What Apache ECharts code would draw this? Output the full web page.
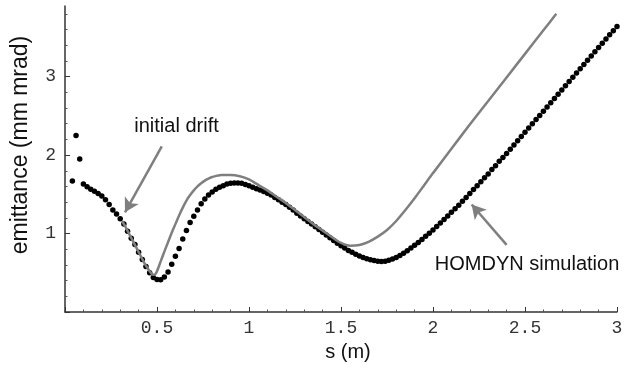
<!DOCTYPE html>
<html>
<head>
<meta charset="utf-8">
<script src="https://cdn.jsdelivr.net/npm/echarts@6/dist/echarts.min.js"></script>
<style>html,body{margin:0;padding:0;background:#fff}#c{width:641px;height:374px}</style>
</head>
<body>
<div id="c"></div>
<script>
// ---- data ----
const xTickLabels = ['0.5', '1', '1.5', '2', '2.5', '3'];
const yTickLabels = ['1', '2', '3'];
const xAxisTitle = 's (m)';
const yAxisTitle = 'emittance (mm mrad)';

// HOMDYN simulation (black dots): s values and emittance values
const dotS = [0.04,0.06,0.08,0.10,0.12,0.14,0.16,0.18,0.20,0.22,0.24,0.26,0.28,0.30,0.32,0.34,0.36,0.38,0.40,0.42,0.44,0.46,0.48,0.50,0.52,0.54,0.56,0.58,0.60,0.62,0.64,0.66,0.68,0.70,0.72,0.74,0.76,0.78,0.80,0.82,0.84,0.86,0.88,0.90,0.92,0.94,0.96,0.98,1.00,1.02,1.04,1.06,1.08,1.10,1.12,1.14,1.16,1.18,1.20,1.22,1.24,1.26,1.28,1.30,1.32,1.34,1.36,1.38,1.40,1.42,1.44,1.46,1.48,1.50,1.52,1.54,1.56,1.58,1.60,1.62,1.64,1.66,1.68,1.70,1.72,1.74,1.76,1.78,1.80,1.82,1.84,1.86,1.88,1.90,1.92,1.94,1.96,1.98,2.00,2.02,2.04,2.06,2.08,2.10,2.12,2.14,2.16,2.18,2.20,2.22,2.24,2.26,2.28,2.30,2.32,2.34,2.36,2.38,2.40,2.42,2.44,2.46,2.48,2.50,2.52,2.54,2.56,2.58,2.60,2.62,2.64,2.66,2.68,2.70,2.72,2.74,2.76,2.78,2.80,2.82,2.84,2.86,2.88,2.90,2.92,2.94,2.96,2.98,3.00];
const dotE = [1.67,2.25,1.95,1.63,1.595,1.565,1.54,1.51,1.48,1.43,1.37,1.30,1.25,1.19,1.12,1.03,0.94,0.86,0.76,0.67,0.58,0.50,0.44,0.415,0.41,0.445,0.51,0.61,0.71,0.81,0.93,1.04,1.14,1.22,1.30,1.38,1.44,1.49,1.53,1.565,1.59,1.61,1.63,1.64,1.645,1.645,1.64,1.625,1.61,1.59,1.57,1.555,1.535,1.515,1.49,1.46,1.43,1.40,1.37,1.335,1.30,1.26,1.225,1.19,1.155,1.12,1.085,1.05,1.015,0.98,0.945,0.91,0.875,0.845,0.815,0.785,0.76,0.735,0.715,0.695,0.68,0.665,0.655,0.648,0.645,0.648,0.66,0.675,0.695,0.72,0.75,0.78,0.815,0.85,0.885,0.925,0.965,1.005,1.045,1.09,1.135,1.18,1.225,1.27,1.315,1.36,1.41,1.46,1.51,1.56,1.61,1.66,1.71,1.76,1.815,1.865,1.92,1.97,2.02,2.074,2.128,2.182,2.236,2.29,2.344,2.398,2.452,2.506,2.56,2.614,2.668,2.722,2.776,2.83,2.884,2.938,2.992,3.046,3.10,3.154,3.208,3.262,3.316,3.37,3.424,3.478,3.532,3.586,3.64];

// grey curve
const lineS = [0.31,0.33,0.35,0.37,0.39,0.41,0.43,0.45,0.46,0.47,0.48,0.49,0.50,0.52,0.54,0.56,0.58,0.60,0.62,0.64,0.66,0.68,0.70,0.72,0.74,0.76,0.78,0.80,0.85,0.90,0.95,1.00,1.05,1.10,1.15,1.20,1.25,1.30,1.35,1.40,1.45,1.50,1.55,1.60,1.65,1.70,1.75,1.80,1.85,1.90,1.95,2.00,2.10,2.20,2.30,2.40,2.50,2.60,2.67];
const lineE = [1.16,1.08,0.99,0.90,0.81,0.72,0.63,0.555,0.52,0.49,0.475,0.48,0.52,0.645,0.77,0.89,1.01,1.12,1.23,1.33,1.42,1.49,1.55,1.60,1.64,1.675,1.70,1.72,1.745,1.745,1.73,1.69,1.62,1.55,1.47,1.39,1.30,1.21,1.12,1.04,0.955,0.88,0.845,0.855,0.895,0.96,1.045,1.16,1.30,1.45,1.61,1.77,2.08,2.39,2.69,2.99,3.29,3.59,3.80];

// annotations (data coordinates)
const annotText = ['initial drift', 'HOMDYN simulation'];
const annotPos = [[0.606, 2.37], [2.511, 0.60]];
const arrowFrom = [[0.526, 2.11], [2.40, 0.856]];
const arrowTo = [[0.326, 1.27], [2.21, 1.37]];

const dots = dotS.map((s, i) => [s, dotE[i]]);
const curve = lineS.map((s, i) => [s, lineE[i]]);

const chart = echarts.init(document.getElementById('c'), null, {renderer: 'canvas'});
const tickFont = {fontFamily: 'Liberation Mono', fontSize: 18, color: '#333'};
const grey = '#7f7f7f';

chart.setOption({
  animation: false,
  backgroundColor: '#fff',
  grid: {left: 65, right: 24, top: 6, bottom: 62, containLabel: false},
  xAxis: {
    type: 'value', min: 0, max: 3, interval: 0.5,
    axisLine: {show: true, onZero: false, lineStyle: {color: '#333', width: 1.5}},
    axisTick: {show: true, inside: true, length: 5, lineStyle: {color: '#333', width: 1}},
    minorTick: {show: true, splitNumber: 5, length: 2.5, lineStyle: {color: '#555', width: 1}},
    splitLine: {show: false},
    axisLabel: Object.assign({margin: 7, formatter: v => {
      const i = xTickLabels.indexOf(String(v)); return i >= 0 ? xTickLabels[i] : '';
    }}, tickFont)
  },
  yAxis: {
    type: 'value', min: 0, max: 3.9, interval: 1,
    axisLine: {show: true, onZero: false, lineStyle: {color: '#333', width: 1.5}},
    axisTick: {show: true, inside: true, length: 5, customValues: [0, 1, 2, 3], lineStyle: {color: '#333', width: 1}},
    minorTick: {show: true, splitNumber: 5, length: 2.5, lineStyle: {color: '#555', width: 1}},
    splitLine: {show: false},
    axisLabel: Object.assign({margin: 9, customValues: [1, 2, 3], formatter: v => {
      const i = yTickLabels.indexOf(String(v)); return i >= 0 ? yTickLabels[i] : '';
    }}, tickFont)
  },
  graphic: [
    {type: 'text', x: 348, y: 352, style: {text: xAxisTitle, font: '20px "Liberation Sans"', fill: '#111', align: 'center', verticalAlign: 'middle'}},
    {type: 'text', x: 21, y: 145, rotation: Math.PI / 2, style: {text: yAxisTitle, font: '23px "Liberation Sans"', fill: '#111', align: 'center', verticalAlign: 'middle'}}
  ],
  series: [
    {
      type: 'scatter', data: dots, symbol: 'circle', symbolSize: 5.5,
      itemStyle: {color: '#000', opacity: 1}, z: 2,
      markPoint: {
        symbol: 'circle', symbolSize: 0, silent: true,
        label: {show: true, position: 'inside', color: '#111', fontFamily: 'Liberation Sans', fontSize: 20},
        data: annotText.map((t, i) => ({coord: annotPos[i], value: t, label: {formatter: t}}))
      },
      markLine: {
        silent: true, symbol: ['none', 'arrow'], symbolSize: [12, 14],
        label: {show: false},
        lineStyle: {color: grey, width: 2.5, type: 'solid', curveness: 0.12, opacity: 1},
        data: arrowFrom.map((f, i) => [{coord: f}, {coord: arrowTo[i]}])
      }
    },
    {
      type: 'line', data: curve, showSymbol: false, smooth: 0.3,
      lineStyle: {color: grey, width: 2.5}, itemStyle: {color: grey}, z: 3
    }
  ]
});
</script>
</body>
</html>
